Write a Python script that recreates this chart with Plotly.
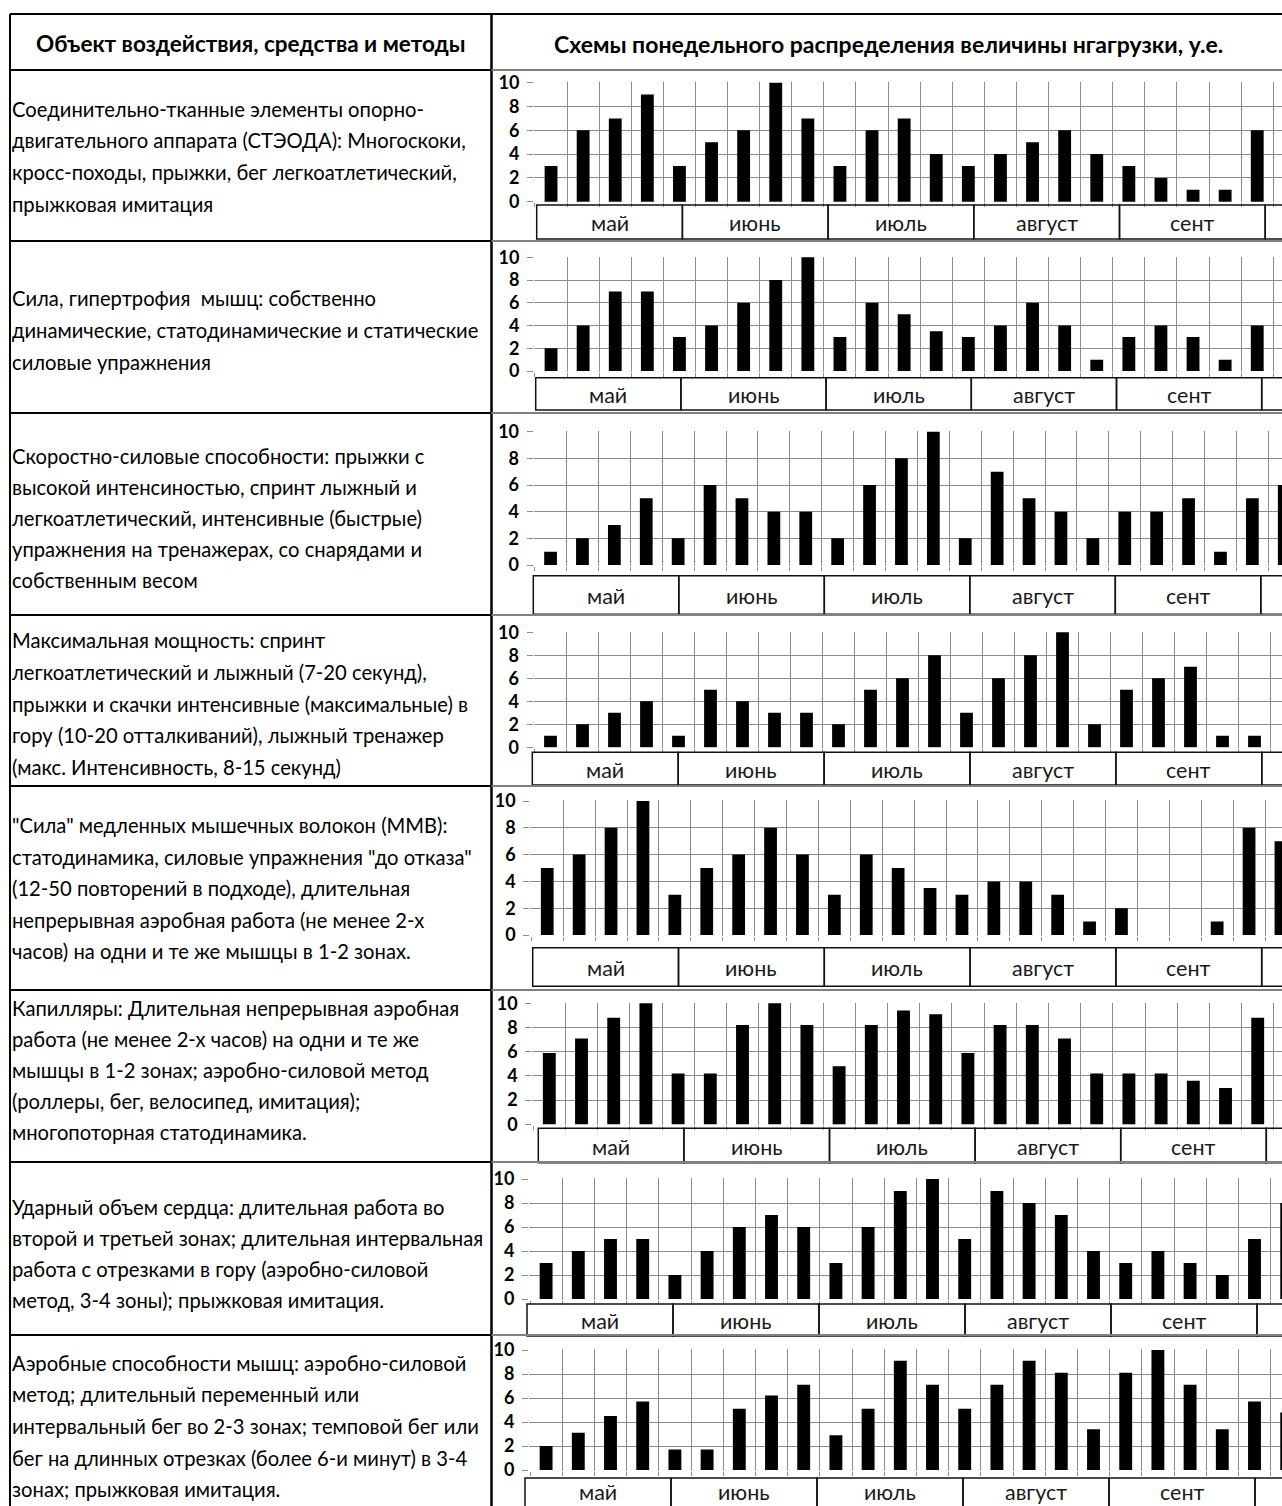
import plotly.graph_objects as go

W, H = 1282, 1506
FONT = "Lato, 'Noto Sans', sans-serif"

# ---------------- data ----------------
header_left = "Объект воздействия, средства и методы"
header_right = "Схемы понедельного распределения величины нгагрузки, у.е."
months = ["май", "июнь", "июль", "август", "сент"]
y_ticks = [0, 2, 4, 6, 8, 10]

desc_1 = ["Соединительно-тканные элементы опорно-",
          "двигательного аппарата (СТЭОДА): Многоскоки,",
          "кросс-походы, прыжки, бег легкоатлетический,",
          "прыжковая имитация"]
desc_2 = ["Сила, гипертрофия  мышц: собственно",
          "динамические, статодинамические и статические",
          "силовые упражнения"]
desc_3 = ["Скоростно-силовые способности: прыжки с",
          "высокой интенсиностью, спринт лыжный и",
          "легкоатлетический, интенсивные (быстрые)",
          "упражнения на тренажерах, со снарядами и",
          "собственным весом"]
desc_4 = ["Максимальная мощность: спринт",
          "легкоатлетический и лыжный (7-20 секунд),",
          "прыжки и скачки интенсивные (максимальные) в",
          "гору (10-20 отталкиваний), лыжный тренажер",
          "(макс. Интенсивность, 8-15 секунд)"]
desc_5 = ["\"Сила\" медленных мышечных волокон (ММВ):",
          "статодинамика, силовые упражнения \"до отказа\"",
          "(12-50 повторений в подходе), длительная",
          "непрерывная аэробная работа (не менее 2-х",
          "часов) на одни и те же мышцы в 1-2 зонах."]
desc_6 = ["Капилляры: Длительная непрерывная аэробная",
          "работа (не менее 2-х часов) на одни и те же",
          "мышцы в 1-2 зонах; аэробно-силовой метод",
          "(роллеры, бег, велосипед, имитация);",
          "многопоторная статодинамика."]
desc_7 = ["Ударный объем сердца: длительная работа во",
          "второй и третьей зонах; длительная интервальная",
          "работа с отрезками в гору (аэробно-силовой",
          "метод, 3-4 зоны); прыжковая имитация."]
desc_8 = ["Аэробные способности мышц: аэробно-силовой",
          "метод; длительный переменный или",
          "интервальный бег во 2-3 зонах; темповой бег или",
          "бег на длинных отрезках (более 6-и минут) в 3-4",
          "зонах; прыжковая имитация."]

load_1 = [3, 6, 7, 9, 3, 5, 6, 10, 7, 3, 6, 7, 4, 3, 4, 5, 6, 4, 3, 2, 1, 1, 6]
load_2 = [2, 4, 7, 7, 3, 4, 6, 8, 10, 3, 6, 5, 3.5, 3, 4, 6, 4, 1, 3, 4, 3, 1, 4]
load_3 = [1, 2, 3, 5, 2, 6, 5, 4, 4, 2, 6, 8, 10, 2, 7, 5, 4, 2, 4, 4, 5, 1, 5, 6]
load_4 = [1, 2, 3, 4, 1, 5, 4, 3, 3, 2, 5, 6, 8, 3, 6, 8, 10, 2, 5, 6, 7, 1, 1]
load_5 = [5, 6, 8, 10, 3, 5, 6, 8, 6, 3, 6, 5, 3.5, 3, 4, 4, 3, 1, 2, 0, 0, 1, 8, 7]
load_6 = [5.9, 7.1, 8.8, 10, 4.2, 4.2, 8.2, 10, 8.2, 4.8, 8.2, 9.4, 9.1, 5.9, 8.2, 8.2,
          7.1, 4.2, 4.2, 4.2, 3.6, 3.0, 8.8]
load_7 = [3, 4, 5, 5, 2, 4, 6, 7, 6, 3, 6, 9, 10, 5, 9, 8, 7, 4, 3, 4, 3, 2, 5, 8]
load_8 = [2, 3.1, 4.5, 5.7, 1.7, 1.7, 5.1, 6.2, 7.1, 2.9, 5.1, 9.1, 7.1, 5.1, 7.1, 9.1,
          8.1, 3.4, 8.1, 10, 7.1, 3.4, 5.7, 4.8]

descs = [desc_1, desc_2, desc_3, desc_4, desc_5, desc_6, desc_7, desc_8]
loads = [load_1, load_2, load_3, load_4, load_5, load_6, load_7, load_8]

# ---------------- layout geometry (pixels) ----------------
geo = [
    dict(xl=535.0, cw=32.1, y10=82.7, y0=201.7, bt=205.0, bb=239.0, bl=536.7, mw=145.7),
    dict(xl=535.0, cw=32.1, y10=257.3, y0=371.0, bt=377.7, bb=410.0, bl=535.7, mw=145.2),
    dict(xl=534.6, cw=31.9, y10=431.7, y0=565.0, bt=575.7, bb=614.3, bl=533.3, mw=145.5),
    dict(xl=534.5, cw=32.0, y10=632.3, y0=747.3, bt=752.3, bb=785.0, bl=532.3, mw=145.9),
    dict(xl=531.3, cw=31.9, y10=801.0, y0=935.0, bt=947.7, bb=986.3, bl=532.7, mw=145.8),
    dict(xl=533.2, cw=32.2, y10=1003.3, y0=1124.3, bt=1128.3, bb=1162.7, bl=538.3, mw=145.6),
    dict(xl=530.0, cw=32.2, y10=1179.0, y0=1299.0, bt=1304.0, bb=1336.0, bl=527.0, mw=146.0),
    dict(xl=530.0, cw=32.2, y10=1350.0, y0=1470.0, bt=1478.0, bb=1512.0, bl=525.0, mw=146.0),
]
text_lines_y = [
    [109, 140, 172, 204],
    [298, 330, 362],
    [456, 487, 518, 549, 580],
    [640, 672, 704, 735, 767],
    [825, 857, 888, 920, 951],
    [1008, 1039, 1070, 1101, 1132],
    [1207, 1238, 1269, 1300],
    [1363, 1394, 1426, 1458, 1489],
]
row_lines = [70, 241, 413, 615, 786, 990, 1162, 1335]
TABLE_TOP, TABLE_LEFT, DIVIDER = 14, 10, 491.5


def px(x):
    return x / W


def py(y):
    return 1 - y / H


GRID = "#8c8c8c"
fig = go.Figure()
shapes = []
annotations = []
layout_axes = {}

for i, (vals, g) in enumerate(zip(loads, geo)):
    k = i + 1
    xa = "x" if k == 1 else f"x{k}"
    ya = "y" if k == 1 else f"y{k}"
    fig.add_trace(go.Bar(
        x=list(range(len(vals))), y=vals, width=0.4,
        marker=dict(color="black", line=dict(width=0)),
        xaxis=xa, yaxis=ya, showlegend=False, hoverinfo="skip"))
    pad = 0.03
    x_end = -0.5 + (W - g["xl"]) / g["cw"]
    layout_axes["xaxis" if k == 1 else f"xaxis{k}"] = dict(
        domain=[px(g["xl"] - pad * g["cw"]), 1.0],
        range=[-0.5 - pad, x_end],
        tickvals=[j - 0.5 for j in range(0, 30)],
        showticklabels=False, showgrid=True, gridcolor=GRID, gridwidth=1.2,
        ticks="outside", ticklen=4, tickcolor=GRID, tickwidth=1.2,
        zeroline=False, showline=False, anchor=ya, fixedrange=True,
        automargin=False)
    unit = (g["y0"] - g["y10"]) / 10
    ypad = 0.05
    layout_axes["yaxis" if k == 1 else f"yaxis{k}"] = dict(
        domain=[py(g["y0"] + ypad * unit), py(g["y10"] - ypad * unit)],
        range=[-ypad, 10 + ypad],
        tickvals=y_ticks, showgrid=True, gridcolor=GRID, gridwidth=1.2,
        ticks="outside", ticklen=6, tickcolor=GRID, tickwidth=1.2,
        ticklabelstandoff=4,
        tickfont=dict(family=FONT, size=18, color="black", weight="bold"),
        zeroline=False, showline=False, anchor=xa, fixedrange=True,
        automargin=False)

    # month boxes below each chart
    label_y = (g["bt"] + min(g["bb"], H - 2)) / 2 + 1
    for m in range(len(months) + 1):
        x0 = g["bl"] + m * g["mw"]
        x1 = x0 + g["mw"]
        shapes.append(dict(type="rect", xref="paper", yref="paper",
                           x0=px(x0), x1=px(x1), y0=py(g["bb"]), y1=py(g["bt"]),
                           line=dict(color="#111111", width=1.5), layer="above"))
        if m < len(months):
            annotations.append(dict(
                x=px((x0 + x1) / 2), y=py(label_y),
                xref="paper", yref="paper", text=months[m], showarrow=False,
                xanchor="center", yanchor="middle",
                font=dict(family=FONT, size=21.5, color="#1a1a1a")))

    # description text
    for line, yy in zip(descs[i], text_lines_y[i]):
        annotations.append(dict(
            x=px(10), y=py(yy), xref="paper", yref="paper", text=line,
            showarrow=False, xanchor="left", yanchor="middle",
            font=dict(family=FONT, size=20.2, color="black")))

# headers
annotations.append(dict(x=px(251), y=py(44), xref="paper", yref="paper",
                        text=header_left, showarrow=False, xanchor="center",
                        yanchor="middle",
                        font=dict(family=FONT, size=22.5, color="black", weight="bold")))
annotations.append(dict(x=px(888), y=py(44), xref="paper", yref="paper",
                        text=header_right, showarrow=False, xanchor="center",
                        yanchor="middle",
                        font=dict(family=FONT, size=23, color="black", weight="bold")))

# table lines
shapes.append(dict(type="line", xref="paper", yref="paper", x0=px(TABLE_LEFT), x1=1.0,
                   y0=py(TABLE_TOP), y1=py(TABLE_TOP), line=dict(color="black", width=2)))
shapes.append(dict(type="line", xref="paper", yref="paper", x0=px(TABLE_LEFT), x1=px(TABLE_LEFT),
                   y0=py(TABLE_TOP), y1=0, line=dict(color="black", width=2)))
shapes.append(dict(type="line", xref="paper", yref="paper", x0=px(DIVIDER), x1=px(DIVIDER),
                   y0=py(TABLE_TOP), y1=0, line=dict(color="black", width=2.5)))
for yy in row_lines:
    shapes.append(dict(type="line", xref="paper", yref="paper", x0=px(TABLE_LEFT), x1=px(DIVIDER),
                       y0=py(yy), y1=py(yy), line=dict(color="black", width=2)))
    shapes.append(dict(type="line", xref="paper", yref="paper", x0=px(DIVIDER), x1=1.0,
                       y0=py(yy), y1=py(yy), line=dict(color="#808080", width=2)))

fig.update_layout(
    width=W, height=H, autosize=False,
    margin=dict(l=0, r=0, t=0, b=0, pad=0, autoexpand=False),
    paper_bgcolor="white", plot_bgcolor="white",
    shapes=shapes, annotations=annotations, showlegend=False,
    **layout_axes)

fig.write_html("out.html", config={"displayModeBar": False},
               post_script="document.body.style.margin='0';document.body.style.overflow='hidden';")
